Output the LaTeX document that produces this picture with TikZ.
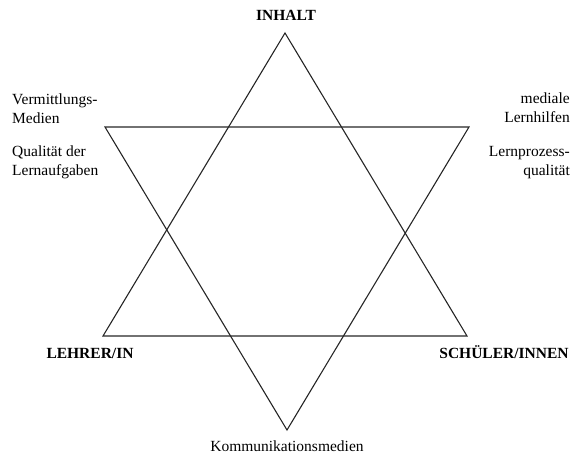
\documentclass[tikz,border=0pt]{standalone}
\usepackage{fontspec}
\setmainfont{Liberation Serif}
\begin{document}
\begin{tikzpicture}[x=1pt,y=-1pt,
  line/.style={draw=black!85,line width=1.1pt,line join=miter},
  lbl/.style={inner sep=0pt,font=\fontsize{15.5}{19}\selectfont},
  blbl/.style={inner sep=0pt,font=\fontsize{15.5}{19}\selectfont\bfseries}]
\useasboundingbox (0,0) rectangle (571,458);
\coordinate (top) at (285,33);
\coordinate (bl) at (103,336);
\coordinate (br) at (467,336);
\coordinate (tl) at (105,127);
\coordinate (tr) at (469,127);
\coordinate (bot) at (287,430);
\draw[line] (top) -- (bl) -- (br) -- cycle;
\draw[line] (tl) -- (tr) -- (bot) -- cycle;
\node[blbl,anchor=base] (inhalt) at (286,20) {INHALT};
\node[blbl,anchor=base] (lehrer) at (90,358) {LEHRER/IN};
\node[blbl,anchor=base] (schueler) at (504,358) {SCHÜLER/INNEN};
\node[lbl,anchor=base] (komm) at (287,451) {Kommunikationsmedien};
\node[lbl,anchor=base west,align=left] (verm) at (12,123) {Vermittlungs-\\Medien};
\node[lbl,anchor=base west,align=left] (qual) at (12,175) {Qualität der\\Lernaufgaben};
\node[lbl,anchor=base east,align=right] (medial) at (570,122) {mediale\\Lernhilfen};
\node[lbl,anchor=base east,align=right] (lernp) at (570,175) {Lernprozess-\\qualität};
\end{tikzpicture}
\end{document}
